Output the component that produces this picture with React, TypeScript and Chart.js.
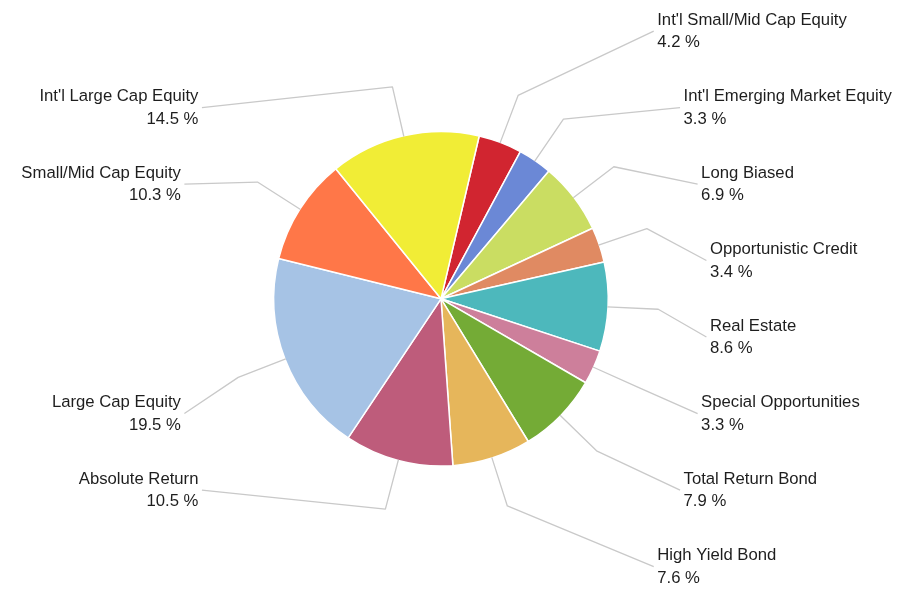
import React, { useEffect, useRef } from "react";
import { Chart, registerables } from "chart.js";

Chart.register(...registerables);

// ---- Data (clockwise from the top-right) ----
const categories = [
  "Int'l Small/Mid Cap Equity",
  "Int'l Emerging Market Equity",
  "Long Biased",
  "Opportunistic Credit",
  "Real Estate",
  "Special Opportunities",
  "Total Return Bond",
  "High Yield Bond",
  "Absolute Return",
  "Large Cap Equity",
  "Small/Mid Cap Equity",
  "Int'l Large Cap Equity",
];
const allocation = [4.2, 3.3, 6.9, 3.4, 8.6, 3.3, 7.9, 7.6, 10.5, 19.5, 10.3, 14.5];
const sliceColors = [
  "#D12530",
  "#6B88D6",
  "#CADD62",
  "#E08A62",
  "#4DB8BC",
  "#CD7F9B",
  "#74AB36",
  "#E6B65B",
  "#BE5C7B",
  "#A6C3E5",
  "#FF7748",
  "#F1ED36",
];

// ---- Layout constants ----
const W = 920;
const H = 590;
const BORDER = 1.5;
const BEND_DIST = 51; // connector break distance beyond the pie edge
const SLOT = 76.5; // vertical spacing of label slots
const NUM_SLOTS = 8;
const LABEL_REACH = 270; // horizontal reach of labels from the center
const LABEL_CURVE = 600; // curvature of the label column
const GAP = 3.5;
const FONT = "16.7px 'Liberation Sans', Arial, sans-serif";

const labelPlugin = {
  id: "outsideLabels",
  afterDatasetsDraw(chart: any) {
    const ctx = chart.ctx as CanvasRenderingContext2D;
    const meta = chart.getDatasetMeta(0);
    const arcs = meta.data as any[];
    if (!arcs.length) return;
    const cx = arcs[0].x;
    const cy = arcs[0].y;
    const r = arcs[0].outerRadius - BORDER / 2;
    const rb = r + BEND_DIST;

    type L = {
      i: number;
      edge: [number, number];
      bend: [number, number];
      right: boolean;
      ny: number;
      slot?: number;
    };
    const items: L[] = arcs.map((a, i) => {
      const mid = (a.startAngle + a.endAngle) / 2;
      const c = Math.cos(mid);
      const s = Math.sin(mid);
      return {
        i,
        edge: [cx + r * c, cy + r * s],
        bend: [cx + rb * c, cy + rb * s],
        right: c >= 0,
        ny: cy + rb * s,
      };
    });

    const slotY = (k: number) => cy + (k - (NUM_SLOTS - 1) / 2) * SLOT;
    const assign = (list: L[]) => {
      list.sort((a, b) => a.ny - b.ny);
      let prev = -1;
      list.forEach((it, idx) => {
        const lo = prev + 1;
        const hi = NUM_SLOTS - (list.length - idx);
        let k = Math.round((it.ny - slotY(0)) / SLOT);
        k = Math.max(lo, Math.min(hi, k));
        it.slot = k;
        prev = k;
      });
    };
    assign(items.filter((d) => d.right));
    assign(items.filter((d) => !d.right));

    ctx.save();
    ctx.strokeStyle = "#c9c9c9";
    ctx.lineWidth = 1.3;
    ctx.lineJoin = "round";
    items.forEach((it) => {
      const y = slotY(it.slot as number);
      const dy = y - cy;
      const off = LABEL_REACH * (1 - (dy / LABEL_CURVE) ** 2);
      const tx = it.right ? cx + off : cx - off;
      const ex = it.right ? tx - GAP : tx + GAP;
      ctx.beginPath();
      ctx.moveTo(it.edge[0], it.edge[1]);
      ctx.lineTo(it.bend[0], it.bend[1]);
      ctx.lineTo(ex, y);
      ctx.stroke();

      ctx.fillStyle = "#1e1e1e";
      ctx.font = FONT;
      ctx.textAlign = it.right ? "left" : "right";
      ctx.textBaseline = "alphabetic";
      ctx.fillText(categories[it.i], tx, y - 6.3);
      ctx.fillText(allocation[it.i].toFixed(1) + " %", tx, y + 16.3);
    });
    ctx.restore();
  },
};

export default function App() {
  const ref = useRef<HTMLCanvasElement | null>(null);
  useEffect(() => {
    if (!ref.current) return;
    const chart = new Chart(ref.current, {
      type: "pie",
      data: {
        labels: categories,
        datasets: [
          {
            data: allocation,
            backgroundColor: sliceColors,
            borderColor: "#ffffff",
            borderWidth: BORDER,
          },
        ],
      },
      options: {
        responsive: false,
        animation: false,
        rotation: 13.2,
        layout: {
          padding: { left: 273, right: 311, top: 130.8, bottom: 123.2 },
        },
        plugins: {
          legend: { display: false },
          tooltip: { enabled: false },
        },
      },
      plugins: [labelPlugin],
    });
    return () => chart.destroy();
  }, []);
  return (
    <div style={{ position: "fixed", left: 0, top: 0, width: W, height: H, background: "#fff" }}>
      <canvas ref={ref} width={W} height={H} style={{ display: "block", width: W, height: H }} />
    </div>
  );
}
